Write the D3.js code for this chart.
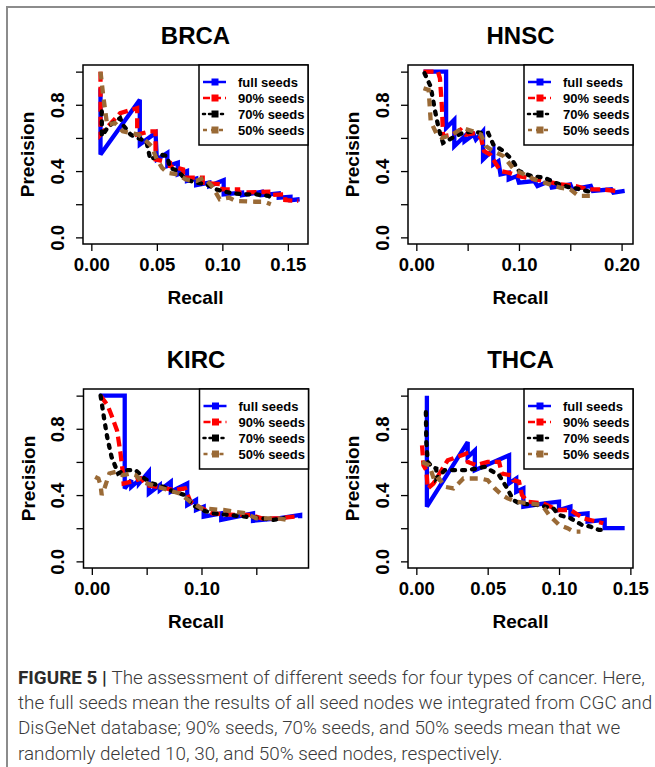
<!DOCTYPE html>
<html>
<head>
<meta charset="utf-8">
<script src="https://cdn.jsdelivr.net/npm/d3@7"></script>
<style>
  body { margin: 0; background: #fff; }
  svg { display: block; }
</style>
</head>
<body>
<div id="fig"></div>
<script>
// series labels, drawn in this order (blue first, brown last)
var seedLabels = ["full seeds", "90% seeds", "70% seeds", "50% seeds"];
var panelNames = ["BRCA", "HNSC", "KIRC", "THCA"];

// precision axis
var precisionTicks = [0, 0.2, 0.4, 0.6, 0.8, 1.0];
var precisionTickLabels = ["0.0", "", "0.4", "", "0.8", ""];

// recall axes (R drops labels that would overlap)
var brcaTicks = [0, 0.05, 0.10, 0.15];
var brcaTickLabels = ["0.00", "0.05", "0.10", "0.15"];
var hnscTicks = [0, 0.05, 0.10, 0.15, 0.20];
var hnscTickLabels = ["0.00", "", "0.10", "", "0.20"];
var kircTicks = [0, 0.05, 0.10, 0.15];
var kircTickLabels = ["0.00", "", "0.10", ""];
var thcaTicks = [0, 0.05, 0.10, 0.15];
var thcaTickLabels = ["0.00", "0.05", "0.10", "0.15"];

// [recall, precision]
var brcaFull = [[0.007,0.90],[0.007,0.50],[0.037,0.83],[0.037,0.56],[0.049,0.63],[0.050,0.47],[0.058,0.51],[0.058,0.43],[0.066,0.45],[0.066,0.38],[0.073,0.40],[0.073,0.34],[0.080,0.355],[0.080,0.315],[0.090,0.33],[0.090,0.31],[0.101,0.345],[0.101,0.26],[0.115,0.27],[0.115,0.255],[0.130,0.275],[0.130,0.255],[0.143,0.265],[0.143,0.24],[0.152,0.245],[0.152,0.225],[0.159,0.23]];
var brca90 = [[0.007,1.0],[0.007,0.62],[0.022,0.75],[0.035,0.78],[0.035,0.62],[0.045,0.64],[0.049,0.64],[0.049,0.47],[0.060,0.45],[0.060,0.43],[0.070,0.41],[0.070,0.36],[0.085,0.36],[0.085,0.33],[0.100,0.32],[0.100,0.29],[0.112,0.29],[0.112,0.27],[0.135,0.275],[0.135,0.255],[0.148,0.26],[0.148,0.225],[0.158,0.22]];
var brca70 = [[0.008,0.76],[0.008,0.61],[0.013,0.67],[0.022,0.72],[0.024,0.68],[0.030,0.62],[0.035,0.60],[0.042,0.58],[0.045,0.47],[0.053,0.50],[0.058,0.49],[0.060,0.42],[0.066,0.40],[0.072,0.35],[0.080,0.33],[0.088,0.32],[0.095,0.29],[0.105,0.27],[0.115,0.26],[0.125,0.26],[0.135,0.25],[0.140,0.23]];
var brca50 = [[0.007,1.0],[0.009,0.86],[0.012,0.68],[0.018,0.69],[0.024,0.64],[0.030,0.63],[0.036,0.62],[0.042,0.58],[0.046,0.55],[0.050,0.47],[0.054,0.42],[0.058,0.39],[0.066,0.38],[0.072,0.35],[0.080,0.34],[0.086,0.36],[0.092,0.31],[0.098,0.23],[0.105,0.24],[0.110,0.22],[0.125,0.215],[0.132,0.215],[0.137,0.20]];

var hnscFull = [[0.007,1.0],[0.029,1.0],[0.029,0.66],[0.037,0.71],[0.037,0.55],[0.047,0.61],[0.047,0.58],[0.056,0.62],[0.058,0.59],[0.065,0.64],[0.065,0.47],[0.075,0.53],[0.075,0.44],[0.080,0.46],[0.082,0.38],[0.090,0.39],[0.090,0.35],[0.098,0.37],[0.100,0.33],[0.115,0.34],[0.118,0.31],[0.130,0.34],[0.132,0.30],[0.150,0.32],[0.152,0.29],[0.170,0.31],[0.172,0.28],[0.190,0.29],[0.192,0.27],[0.203,0.28]];
var hnsc90 = [[0.007,1.0],[0.021,1.0],[0.023,0.96],[0.025,0.78],[0.026,0.61],[0.035,0.62],[0.043,0.65],[0.048,0.62],[0.058,0.63],[0.063,0.60],[0.066,0.52],[0.072,0.50],[0.077,0.45],[0.082,0.40],[0.090,0.39],[0.100,0.37],[0.115,0.35],[0.125,0.34],[0.140,0.32],[0.155,0.31],[0.168,0.29],[0.180,0.29],[0.195,0.28]];
var hnsc70 = [[0.008,0.99],[0.014,0.91],[0.018,0.77],[0.022,0.65],[0.026,0.57],[0.035,0.60],[0.045,0.63],[0.055,0.64],[0.063,0.63],[0.070,0.63],[0.075,0.56],[0.085,0.52],[0.093,0.47],[0.100,0.40],[0.112,0.37],[0.125,0.36],[0.135,0.33],[0.150,0.30],[0.160,0.29],[0.172,0.27]];
var hnsc50 = [[0.007,0.90],[0.012,0.89],[0.014,0.70],[0.020,0.62],[0.025,0.60],[0.035,0.62],[0.045,0.66],[0.055,0.64],[0.063,0.62],[0.068,0.55],[0.075,0.52],[0.085,0.49],[0.095,0.41],[0.105,0.38],[0.115,0.35],[0.125,0.33],[0.140,0.30],[0.150,0.29],[0.158,0.25],[0.170,0.25]];

var kircFull = [[0.007,1.0],[0.030,1.0],[0.030,0.44],[0.036,0.49],[0.036,0.45],[0.043,0.49],[0.043,0.47],[0.052,0.54],[0.052,0.41],[0.062,0.46],[0.062,0.43],[0.072,0.48],[0.072,0.42],[0.087,0.47],[0.087,0.34],[0.095,0.37],[0.095,0.31],[0.102,0.33],[0.102,0.27],[0.118,0.29],[0.118,0.25],[0.147,0.29],[0.147,0.245],[0.170,0.26],[0.190,0.28],[0.190,0.26]];
var kirc90 = [[0.008,1.0],[0.0145,0.94],[0.018,0.88],[0.023,0.79],[0.026,0.66],[0.028,0.55],[0.029,0.47],[0.035,0.48],[0.045,0.50],[0.050,0.46],[0.060,0.45],[0.075,0.43],[0.085,0.44],[0.090,0.36],[0.100,0.32],[0.110,0.29],[0.130,0.28],[0.145,0.28],[0.155,0.26],[0.170,0.26],[0.185,0.27]];
var kirc70 = [[0.008,1.0],[0.011,0.87],[0.014,0.75],[0.018,0.63],[0.024,0.53],[0.030,0.55],[0.040,0.55],[0.048,0.50],[0.055,0.47],[0.065,0.45],[0.075,0.42],[0.085,0.40],[0.092,0.34],[0.100,0.31],[0.110,0.29],[0.125,0.28],[0.140,0.27],[0.155,0.26],[0.165,0.25],[0.175,0.26]];
var kirc50 = [[0.003,0.51],[0.006,0.50],[0.008,0.46],[0.009,0.40],[0.012,0.45],[0.016,0.53],[0.022,0.54],[0.028,0.52],[0.035,0.53],[0.040,0.52],[0.046,0.48],[0.055,0.46],[0.065,0.44],[0.080,0.41],[0.090,0.36],[0.100,0.32],[0.120,0.31],[0.140,0.29],[0.150,0.26],[0.170,0.26],[0.178,0.25]];

var thcaFull = [[0.0074,1.0],[0.0074,0.33],[0.036,0.72],[0.036,0.63],[0.041,0.67],[0.041,0.55],[0.065,0.64],[0.065,0.47],[0.070,0.50],[0.070,0.42],[0.075,0.44],[0.075,0.33],[0.090,0.35],[0.100,0.36],[0.100,0.31],[0.108,0.33],[0.108,0.28],[0.120,0.29],[0.120,0.24],[0.132,0.25],[0.132,0.20],[0.146,0.20]];
var thca90 = [[0.004,0.70],[0.005,0.58],[0.007,0.55],[0.008,0.44],[0.012,0.47],[0.022,0.61],[0.035,0.65],[0.036,0.60],[0.042,0.58],[0.050,0.60],[0.058,0.60],[0.060,0.53],[0.066,0.52],[0.068,0.49],[0.072,0.48],[0.074,0.40],[0.078,0.36],[0.089,0.35],[0.099,0.31],[0.108,0.31],[0.117,0.26],[0.131,0.23]];
var thca70 = [[0.0067,0.90],[0.007,0.72],[0.008,0.60],[0.011,0.57],[0.014,0.56],[0.014,0.50],[0.020,0.55],[0.036,0.55],[0.048,0.57],[0.058,0.52],[0.063,0.45],[0.068,0.37],[0.072,0.35],[0.085,0.34],[0.096,0.32],[0.100,0.28],[0.108,0.26],[0.116,0.22],[0.122,0.21],[0.128,0.19],[0.131,0.19]];
var thca50 = [[0.004,0.60],[0.009,0.58],[0.011,0.53],[0.013,0.48],[0.016,0.50],[0.020,0.45],[0.026,0.44],[0.033,0.50],[0.045,0.50],[0.050,0.49],[0.055,0.44],[0.060,0.40],[0.064,0.38],[0.070,0.36],[0.080,0.35],[0.088,0.34],[0.093,0.28],[0.100,0.22],[0.106,0.20],[0.110,0.18],[0.115,0.18]];

var captionLines = [
  "The assessment of different seeds for four types of cancer. Here,",
  "the full seeds mean the results of all seed nodes we integrated from CGC and",
  "DisGeNet database; 90% seeds, 70% seeds, and 50% seeds mean that we",
  "randomly deleted 10, 30, and 50% seed nodes, respectively."
];

// styles
var seedColors = ["#0000ff", "#ff0000", "#000000", "#9a6a36"];
var seedDash = [null, "10,5", "3,7", "8,6"];
var seedCap = ["butt", "butt", "round", "butt"];

var panels = [
  { name: panelNames[0], series: [brcaFull, brca90, brca70, brca50], ticks: brcaTicks, tickLabels: brcaTickLabels, x0: 83, y0: 65 },
  { name: panelNames[1], series: [hnscFull, hnsc90, hnsc70, hnsc50], ticks: hnscTicks, tickLabels: hnscTickLabels, x0: 408, y0: 65 },
  { name: panelNames[2], series: [kircFull, kirc90, kirc70, kirc50], ticks: kircTicks, tickLabels: kircTickLabels, x0: 83.5, y0: 389 },
  { name: panelNames[3], series: [thcaFull, thca90, thca70, thca50], ticks: thcaTicks, tickLabels: thcaTickLabels, x0: 408, y0: 389 }
];

var W = 655, H = 767;
var boxW = 225, boxH = 179;
var FONT = "'Liberation Sans', Arial, Helvetica, sans-serif";

var svg = d3.select("#fig").append("svg")
  .attr("width", W)
  .attr("height", H);

svg.append("rect").attr("width", W).attr("height", H).attr("fill", "#fff");

// grey frame of the journal page
svg.append("path")
  .attr("d", "M7," + H + "V7H" + W)
  .attr("fill", "none")
  .attr("stroke", "#8c8c8c")
  .attr("stroke-width", 2);

var drawPanel = function(p){
  var g = svg.append("g").attr("transform", "translate(" + p.x0 + "," + p.y0 + ")");

  // R style limits: c(0, max) widened by 4%
  var maxX = d3.max(p.series, function(s){ return d3.max(s, function(d){ return d[0]; }); });
  var x = d3.scaleLinear().domain([-0.04 * maxX, maxX * 1.04]).range([0, boxW]);
  var y = d3.scaleLinear().domain([-0.04, 1.04]).range([boxH, 0]);

  var line = d3.line()
    .x(function(d){ return x(d[0]); })
    .y(function(d){ return y(d[1]); });

  var clipId = "clip" + p.name;
  g.append("clipPath").attr("id", clipId)
    .append("rect").attr("width", boxW).attr("height", boxH);

  p.series.forEach(function(s, i){
    g.append("path")
      .datum(s)
      .attr("clip-path", "url(#" + clipId + ")")
      .attr("d", line)
      .attr("fill", "none")
      .attr("stroke", seedColors[i])
      .attr("stroke-width", 4.3)
      .attr("stroke-linejoin", "miter")
      .attr("stroke-miterlimit", 3)
      .attr("stroke-linecap", seedCap[i])
      .attr("stroke-dasharray", seedDash[i]);
  });

  // x axis
  var xAxis = g.append("g")
    .attr("transform", "translate(0," + boxH + ")")
    .call(d3.axisBottom(x)
      .tickValues(p.ticks)
      .tickFormat(function(d, i){ return p.tickLabels[i]; })
      .tickSize(7)
      .tickPadding(6));
  xAxis.select(".domain").remove();
  xAxis.selectAll("line").attr("stroke", "#000").attr("stroke-width", 1.3);
  xAxis.selectAll("text")
    .attr("y", 27).attr("dy", null)
    .style("font-family", FONT).style("font-weight", "bold")
    .style("font-size", "18.5px").attr("fill", "#000");

  // y axis, labels turned like R's las = 0
  var yAxis = g.append("g")
    .call(d3.axisLeft(y)
      .tickValues(precisionTicks)
      .tickFormat(function(d, i){ return precisionTickLabels[i]; })
      .tickSize(7));
  yAxis.select(".domain").remove();
  yAxis.selectAll("line").attr("stroke", "#000").attr("stroke-width", 1.3);
  yAxis.selectAll("text")
    .attr("transform", "rotate(-90)")
    .attr("x", 0).attr("y", -19.5).attr("dy", null)
    .attr("text-anchor", "middle")
    .style("font-family", FONT).style("font-weight", "bold")
    .style("font-size", "18.5px").attr("fill", "#000");

  // plot box
  g.append("rect")
    .attr("width", boxW).attr("height", boxH)
    .attr("fill", "none").attr("stroke", "#000").attr("stroke-width", 1.5);

  // titles
  g.append("text")
    .attr("x", boxW / 2).attr("y", -21.5)
    .attr("text-anchor", "middle")
    .style("font-family", FONT).style("font-weight", "bold").style("font-size", "24px")
    .text(p.name);
  g.append("text")
    .attr("x", boxW / 2).attr("y", boxH + 60)
    .attr("text-anchor", "middle")
    .style("font-family", FONT).style("font-weight", "bold").style("font-size", "19px")
    .text("Recall");
  g.append("text")
    .attr("transform", "translate(-49," + (boxH / 2) + ") rotate(-90)")
    .attr("text-anchor", "middle")
    .style("font-family", FONT).style("font-weight", "bold").style("font-size", "19px")
    .text("Precision");

  // legend
  var lg = g.append("g").attr("transform", "translate(" + (boxW - 109) + ",0)");
  lg.append("rect")
    .attr("width", 109).attr("height", 80)
    .attr("fill", "#fff").attr("stroke", "#000").attr("stroke-width", 1.5);
  seedLabels.forEach(function(label, i){
    var ly = 17 + i * 16;
    lg.append("line")
      .attr("x1", 4).attr("x2", 27).attr("y1", ly).attr("y2", ly)
      .attr("stroke", seedColors[i]).attr("stroke-width", 2.5)
      .attr("stroke-linecap", seedCap[i])
      .attr("stroke-dasharray", i == 0 ? null : (i == 1 ? "7,4" : (i == 2 ? "2,4" : "4,4")));
    lg.append("rect")
      .attr("x", 12.5).attr("y", ly - 3.5).attr("width", 7).attr("height", 7)
      .attr("fill", seedColors[i]);
    lg.append("text")
      .attr("x", 39).attr("y", ly).attr("dy", "0.36em")
      .style("font-family", FONT).style("font-weight", "bold").style("font-size", "13px")
      .text(label);
  });
};

panels.forEach(drawPanel);

// caption; the journal face is wider than Roboto, so stretch each line a little
var cap = svg.append("g");
captionLines.forEach(function(t, i){
  var tx = cap.append("text")
    .attr("x", 18).attr("y", 684 + i * 25.2)
    .style("font-family", "Roboto, 'Liberation Sans', sans-serif")
    .style("font-size", "17.8px")
    .style("font-weight", 300)
    .attr("fill", "#3a3a3a");
  if (i == 0){
    tx.append("tspan").style("font-weight", "bold").attr("fill", "#2b2b2b").text("FIGURE 5 | ");
  }
  tx.append("tspan").text(t);
  var len = tx.node().getComputedTextLength();
  tx.attr("textLength", len * 1.06).attr("lengthAdjust", "spacingAndGlyphs");
});
</script>
</body>
</html>
